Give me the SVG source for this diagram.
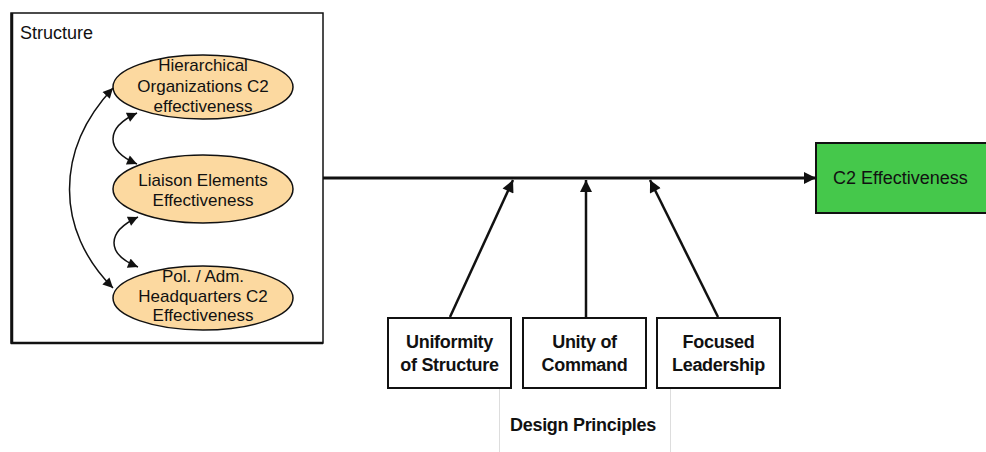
<svg xmlns="http://www.w3.org/2000/svg" width="986" height="452" viewBox="0 0 986 452">
<style>
text{font-family:"Liberation Sans",Arial,sans-serif;fill:#111}
.el{fill:#fcd9a0;stroke:#111;stroke-width:1.5}
.et{font-size:17px;text-anchor:middle}
.pb{fill:#fff;stroke:#111;stroke-width:2}
.pt{font-size:18px;font-weight:bold;text-anchor:middle;letter-spacing:-0.3px}
.c{fill:none;stroke:#111;stroke-width:1.5}
.ca{fill:none;stroke:#111;stroke-width:2.5}
</style>
<defs>
<marker id="ah" viewBox="0 0 10 10" refX="10" refY="5" markerWidth="11" markerHeight="10" markerUnits="userSpaceOnUse" orient="auto-start-reverse">
<path d="M0,0 L10,5 L0,10 z" fill="#111"/>
</marker>
<marker id="ahb" viewBox="0 0 10 10" refX="10" refY="5" markerWidth="15" markerHeight="12" markerUnits="userSpaceOnUse" orient="auto-start-reverse">
<path d="M0,0 L10,5 L0,10 z" fill="#111"/>
</marker>
</defs>
<g id="structure">
<rect x="11" y="13" width="312" height="330" fill="#fff" stroke="#111" stroke-width="1.5"/>
<path d="M12,13 V343 H323" fill="none" stroke="#111" stroke-width="2.5"/>
<text x="20" y="39" font-size="18">Structure</text>
</g>
<g id="hier">
<ellipse class="el" cx="203" cy="87" rx="90" ry="32"/>
<text class="et" x="203" y="71">Hierarchical</text>
<text class="et" x="203" y="92">Organizations C2</text>
<text class="et" x="203" y="112">effectiveness</text>
</g>
<g id="liaison">
<ellipse class="el" cx="203" cy="189" rx="90" ry="34"/>
<text class="et" x="203" y="186">Liaison Elements</text>
<text class="et" x="203" y="206">Effectiveness</text>
</g>
<g id="polhq">
<ellipse class="el" cx="203" cy="298" rx="90" ry="32"/>
<text class="et" x="203" y="282">Pol. / Adm.</text>
<text class="et" x="203" y="302">Headquarters C2</text>
<text class="et" x="203" y="321">Effectiveness</text>
</g>
<g id="c2eff">
<rect x="816" y="143" width="180" height="70" fill="#45c84b" stroke="#111" stroke-width="2"/>
<text x="833" y="184" font-size="18">C2 Effectiveness</text>
</g>
<g id="uniformity">
<rect class="pb" x="388" y="318" width="123" height="70"/>
<text class="pt" x="449.5" y="348">Uniformity</text>
<text class="pt" x="449.5" y="371">of Structure</text>
</g>
<g id="unity">
<rect class="pb" x="523" y="318" width="123" height="70"/>
<text class="pt" x="584.5" y="348">Unity of</text>
<text class="pt" x="584.5" y="371">Command</text>
</g>
<g id="focused">
<rect class="pb" x="657" y="318" width="123" height="70"/>
<text class="pt" x="718.5" y="348">Focused</text>
<text class="pt" x="718.5" y="371">Leadership</text>
</g>
<g id="principles">
<line x1="499.5" y1="389" x2="499.5" y2="452" stroke="#ddd" stroke-width="1"/>
<line x1="670.5" y1="389" x2="670.5" y2="452" stroke="#ddd" stroke-width="1"/>
<text class="pt" x="583" y="431">Design Principles</text>
</g>
<g id="connectors">
<path class="c" d="M113,88 C55,150 55,230 113,288" marker-start="url(#ah)" marker-end="url(#ah)"/>
<path class="c" d="M137,113 C105,128 105,150 137,164" marker-start="url(#ah)" marker-end="url(#ah)"/>
<path class="c" d="M138,217 C106,232 106,254 138,267" marker-start="url(#ah)" marker-end="url(#ah)"/>
<line x1="323" y1="178" x2="816" y2="178" stroke="#111" stroke-width="3" marker-end="url(#ahb)"/>
<line class="ca" x1="450" y1="317" x2="513" y2="180" marker-end="url(#ahb)"/>
<line class="ca" x1="586" y1="317" x2="586" y2="180" marker-end="url(#ahb)"/>
<line class="ca" x1="718" y1="317" x2="650" y2="180" marker-end="url(#ahb)"/>
</g>
</svg>
